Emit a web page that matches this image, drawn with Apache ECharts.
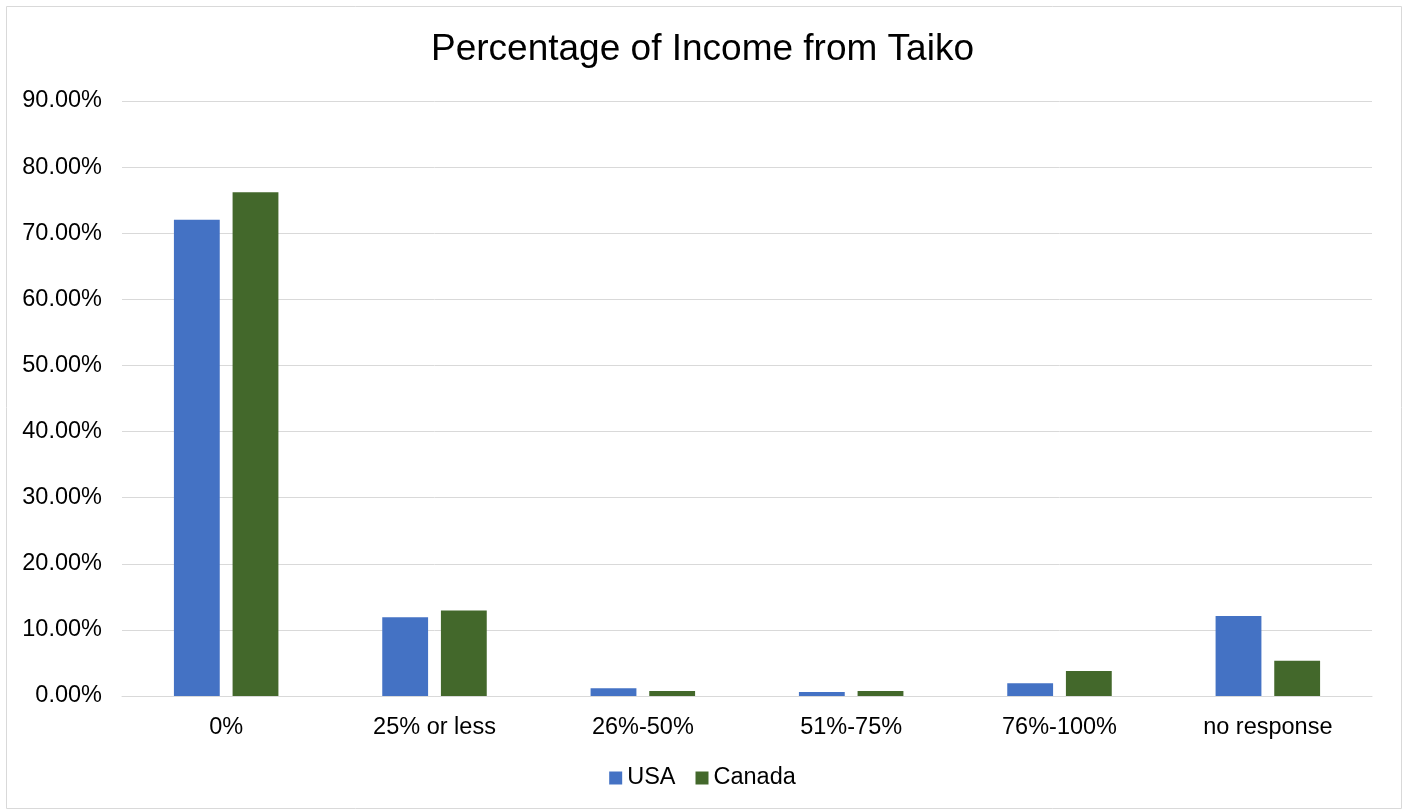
<!DOCTYPE html>
<html>
<head>
<meta charset="utf-8">
<script src="https://cdn.jsdelivr.net/npm/echarts@6/dist/echarts.min.js"></script>
<style>
html,body{margin:0;padding:0;background:#fff;}
#chart{width:1405px;height:809px;}
</style>
</head>
<body>
<div id="chart"></div>
<script>
const categories = ['0%', '25% or less', '26%-50%', '51%-75%', '76%-100%', 'no response'];
const usaValues = [72.05, 11.9, 1.16, 0.6, 1.92, 12.1];
const canadaValues = [76.2, 12.95, 0.75, 0.75, 3.8, 5.35];
const seriesNames = ['USA', 'Canada'];

const chart = echarts.init(document.getElementById('chart'));
const font = 'Liberation Sans, Arial, sans-serif';
chart.setOption({
  animation: false,
  graphic: [{
    type: 'rect', left: 4, top: 4,
    shape: { width: 1395, height: 802 },
    style: { fill: 'none', stroke: '#d9d9d9', lineWidth: 1 }
  }],
  title: {
    text: 'Percentage of Income from Taiko',
    left: 'center', top: 26,
    textStyle: { fontFamily: font, fontSize: 37, fontWeight: 'normal', color: '#000' }
  },
  legend: {
    data: seriesNames, top: 761, left: 'center',
    icon: 'rect', itemWidth: 13, itemHeight: 13, itemGap: 20,
    textStyle: { fontFamily: font, fontSize: 23.5, color: '#000', padding: [0, 0, 0, 0] }
  },
  grid: { left: 122, right: 33, top: 101, bottom: 113, containLabel: false },
  xAxis: {
    type: 'category', data: categories,
    axisLine: { lineStyle: { color: '#d9d9d9', width: 1 } },
    axisTick: { show: false },
    axisLabel: { fontFamily: font, fontSize: 23.5, color: '#000', margin: 20 }
  },
  yAxis: {
    type: 'value', min: 0, max: 90, interval: 10,
    axisLine: { show: false }, axisTick: { show: false },
    splitLine: { lineStyle: { color: '#d9d9d9', width: 1 } },
    axisLabel: { fontFamily: font, fontSize: 23.5, color: '#000', margin: 20,
      padding: [4, 0, 0, 0],
      formatter: v => v.toFixed(2) + '%' }
  },
  series: [
    { name: 'USA', type: 'bar', data: usaValues, barWidth: '22%', barGap: '28%',
      itemStyle: { color: '#4472c4' } },
    { name: 'Canada', type: 'bar', data: canadaValues, barWidth: '22%',
      itemStyle: { color: '#43682b' } }
  ]
});
</script>
</body>
</html>
